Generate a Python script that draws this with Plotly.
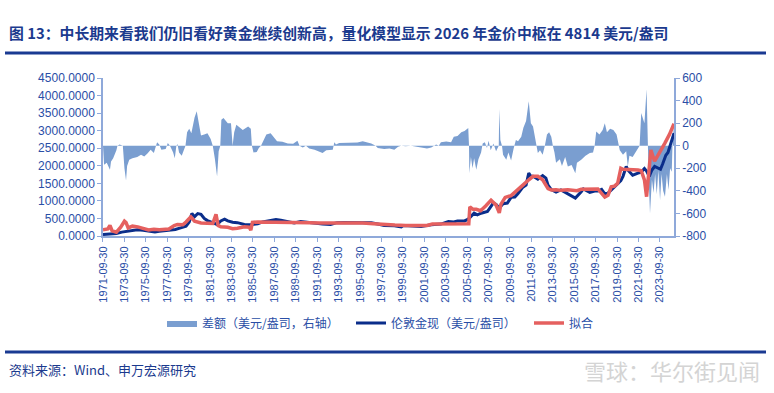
import plotly.graph_objects as go
import pandas as pd

# ---------------- data ----------------
# time stamps are decimal years
gold_t = [1971.75, 1972.5, 1973.0, 1973.5, 1974.0, 1974.5, 1974.95, 1975.5, 1976.0, 1976.6,
          1977.0, 1977.9, 1978.5, 1979.0, 1979.5, 1979.8, 1980.05, 1980.3, 1980.6, 1980.9,
          1981.2, 1981.5, 1981.9, 1982.4, 1982.75, 1983.1, 1983.4, 1983.85, 1984.3, 1984.95,
          1985.5, 1985.85, 1986.2, 1986.65, 1987.1, 1987.9, 1988.35, 1989.0, 1989.6, 1990.2,
          1990.8, 1991.5, 1992.25, 1993.0, 1993.6, 1994.2, 1995.0, 1996.0, 1996.8, 1997.4,
          1998.0, 1998.95, 1999.6, 1999.8, 2000.5, 2001.45, 2002.4, 2002.85, 2003.3, 2004.0,
          2004.5, 2004.85, 2005.5, 2005.85, 2006.1, 2006.4, 2006.7, 2007.05, 2007.65, 2007.98,
          2008.2, 2008.45, 2008.75, 2009.1, 2009.5, 2009.85, 2010.2, 2010.5, 2010.95, 2011.25,
          2011.5, 2011.7, 2011.9, 2012.35, 2012.8, 2013.1, 2013.3, 2013.6, 2014.05, 2014.5,
          2015.15, 2015.6, 2015.85, 2016.4, 2016.6, 2017.2, 2017.65, 2017.95, 2018.3, 2018.6,
          2018.9, 2019.5, 2019.8, 2020.1, 2020.3, 2020.6, 2020.75, 2021.2, 2021.7, 2022.0,
          2022.3, 2022.5, 2022.75, 2023.0, 2023.25, 2023.5, 2023.8, 2024.0, 2024.3, 2024.5,
          2024.8, 2025.06]
gold_v = [42, 65, 70, 110, 140, 150, 180, 165, 135, 115,
          135, 160, 185, 230, 280, 400, 640, 550, 640, 620,
          500, 440, 400, 330, 430, 480, 430, 390, 380, 330,
          320, 330, 345, 400, 420, 470, 450, 400, 370, 410,
          385, 360, 340, 330, 380, 385, 385, 395, 375, 340,
          300, 290, 260, 300, 285, 270, 320, 320, 340, 410,
          400, 430, 430, 480, 560, 650, 600, 650, 700, 830,
          940, 900, 800, 920, 940, 1100, 1110, 1210, 1390, 1450,
          1790, 1700, 1700, 1620, 1720, 1650, 1450, 1320, 1250, 1310,
          1200, 1120, 1080, 1260, 1340, 1240, 1280, 1280, 1330, 1200,
          1220, 1400, 1500, 1580, 1700, 1980, 1880, 1730, 1790, 1820,
          1920, 1850, 1700, 1880, 1980, 1950, 1900, 2050, 2300, 2380,
          2700, 2930]

fit_t = [1971.75, 1972.2, 1972.4, 1972.6, 1973.0, 1973.4, 1973.75, 1973.9, 1974.1, 1974.5,
         1975.0, 1975.5, 1976.0, 1976.5, 1977.0, 1977.9, 1978.4, 1978.7, 1979.2, 1979.5,
         1979.95, 1980.3, 1980.6, 1980.9, 1981.5, 1982.0, 1982.3, 1982.5, 1982.75, 1983.4,
         1983.85, 1984.3, 1984.95, 1985.4, 1985.55, 1985.7, 1986.2, 1987.0, 1988.0, 1989.0,
         1990.0, 1991.0, 1992.0, 1993.0, 1994.0, 1995.0, 1996.0, 1997.0, 1998.0, 1999.0,
         2000.0, 2001.0, 2002.0, 2002.5, 2003.5, 2004.5, 2005.5, 2005.9, 2006.0, 2006.3,
         2006.6, 2007.0, 2007.5, 2007.98, 2008.45, 2008.75, 2008.9, 2009.3, 2009.85, 2010.5,
         2010.95, 2011.5, 2011.9, 2012.35, 2012.8, 2013.3, 2013.6, 2014.05, 2014.5, 2015.15,
         2015.6, 2016.0, 2016.4, 2017.2, 2017.65, 2017.95, 2018.6, 2018.9, 2019.2, 2019.5,
         2019.8, 2020.1, 2020.3, 2020.75, 2021.2, 2021.7, 2022.0, 2022.3, 2022.5, 2022.6,
         2022.9, 2023.25, 2023.7, 2024.2, 2024.65, 2025.06]
fit_v = [180, 200, 300, 150, 110, 250, 420, 380, 230, 280,
         260, 220, 170, 190, 180, 200, 300, 330, 320, 400,
         545, 420, 400, 370, 360, 355, 620, 300, 260, 250,
         210, 220, 260, 250, 170, 390, 400, 400, 390, 390,
         395, 380, 370, 375, 380, 370, 370, 350, 320, 310,
         300, 300, 300, 340, 340, 350, 350, 350, 830, 760,
         760, 720, 860, 1020, 880, 660, 900, 1100, 1150, 1310,
         1450, 1600, 1700, 1700, 1600, 1350, 1310, 1320, 1300, 1320,
         1310, 1290, 1330, 1340, 1360, 1340, 1110, 1160, 1400, 1420,
         1500, 1930, 1900, 1900, 1880, 1880, 1860, 1600, 1120, 1500,
         2450, 2130, 2360, 2640, 2900, 3200]

diff_t = [1971.75, 1971.85, 1972.1, 1972.4, 1972.5, 1972.7, 1973.0, 1973.1, 1973.3, 1973.6,
          1973.75, 1973.9, 1974.0, 1974.2, 1974.5, 1974.95, 1975.3, 1975.6, 1975.9, 1976.2,
          1976.5, 1976.7, 1976.8, 1977.0, 1977.2, 1977.6, 1977.8, 1978.0, 1978.3, 1978.45,
          1978.6, 1978.7, 1978.85, 1979.1, 1979.3, 1979.45, 1979.6, 1979.8, 1980.0, 1980.3,
          1980.5, 1980.7, 1980.9, 1981.2, 1981.5, 1981.8, 1982.0, 1982.2, 1982.4, 1982.55,
          1982.7, 1982.8, 1983.0, 1983.4, 1983.7, 1983.85, 1984.0, 1984.2, 1984.5, 1984.8,
          1985.3, 1985.55, 1985.65, 1985.8, 1986.1, 1986.3, 1986.5, 1986.7, 1987.0, 1987.4,
          1987.7, 1988.0, 1988.5, 1989.0, 1989.5, 1989.9, 1990.1, 1990.4, 1990.7, 1991.0,
          1991.5, 1992.25, 1992.6, 1993.2, 1993.35, 1993.5, 1993.8, 1994.5, 1995.5, 1996.0,
          1996.4, 1996.8, 1997.2, 1997.4, 1998.0, 1998.5, 1998.95, 1999.3, 1999.6, 2000.0,
          2000.5, 2001.0, 2001.45, 2002.0, 2002.4, 2002.85, 2003.1, 2003.3, 2003.8, 2004.25,
          2004.5, 2004.85, 2005.2, 2005.5, 2005.85, 2005.92, 2005.95, 2006.1, 2006.25, 2006.4,
          2006.6, 2006.8, 2007.05, 2007.2, 2007.4, 2007.6, 2007.75, 2007.95, 2008.2, 2008.45,
          2008.7, 2008.75, 2008.85, 2009.0, 2009.1, 2009.4, 2009.6, 2009.85, 2010.1, 2010.3,
          2010.5, 2010.8, 2011.0, 2011.25, 2011.5, 2011.7, 2011.9, 2012.1, 2012.35, 2012.55,
          2012.8, 2013.0, 2013.2, 2013.4, 2013.6, 2013.75, 2013.9, 2014.05, 2014.4, 2014.6,
          2014.9, 2015.15, 2015.5, 2015.85, 2016.0, 2016.4, 2016.8, 2017.2, 2017.5, 2017.65,
          2017.8, 2018.1, 2018.4, 2018.6, 2018.8, 2019.1, 2019.4, 2019.7, 2019.9, 2020.0,
          2020.3, 2020.6, 2020.75, 2020.9, 2021.2, 2021.5, 2021.7, 2021.85, 2022.0, 2022.3,
          2022.5, 2022.6, 2022.7, 2022.82, 2023.0, 2023.15, 2023.3, 2023.45, 2023.6, 2023.76,
          2023.9, 2024.05, 2024.22, 2024.4, 2024.55, 2024.7, 2024.85, 2024.92, 2024.98, 2025.06]
diff_v = [0, -169, -150, -213, -140, -110, -40, 0, 10, 0,
          -200, -308, -180, -125, -110, -100, -80, -95, -70, -35,
          -65, 0, 30, 10, -35, -30, 24, 0, -60, -110,
          0, 15, -60, -90, -40, 0, 120, 150, 110, 250,
          305, 180, 90, 100, 110, 60, 0, -120, -272, -50,
          0, 230, 245, 200, 200, 0, 120, 185, 160, 140,
          170, 150, 0, -60, -55, -20, 0, 40, 100, 110,
          70, 40, 35, 20, 18, 45, 0, -15, 0, -25,
          -35, -65, -40, -35, 30, 10, 24, 25, 28, 40,
          30, 20, 0, -20, -30, -25, -35, -10, 0, -5,
          0, -10, -20, -25, -15, 10, 0, 30, 38, 30,
          80, 85, 120, 130, 157, 0, -243, -100, -200, -110,
          -213, -120, -60, 20, 30, -20, 45, -40, 20, -50,
          0, 326, 50, 0, -80, -125, -60, -130, -20, 50,
          40, 80, 160, 220, 394, 200, 170, 60, -65, -40,
          -80, 0, 100, 120, 80, 0, -60, -150, -120, -180,
          -100, -185, -170, -243, -150, -125, -90, -65, -60, 0,
          127, 100, 140, 200, 120, 150, 140, 100, 20, -40,
          -80, -50, -185, -90, -100, -50, -30, 0, 290, 200,
          500, 0, -300, -600, -300, -420, -250, -430, -220, -482,
          -250, -400, -453, -250, -393, -200, -230, 0, 130, 190]

tick_labels = ["1971-09-30", "1973-09-30", "1975-09-30", "1977-09-30", "1979-09-30",
               "1981-09-30", "1983-09-30", "1985-09-30", "1987-09-30", "1989-09-30",
               "1991-09-30", "1993-09-30", "1995-09-30", "1997-09-30", "1999-09-30",
               "2001-09-30", "2003-09-30", "2005-09-30", "2007-09-30", "2009-09-30",
               "2011-09-30", "2013-09-30", "2015-09-30", "2017-09-30", "2019-09-30",
               "2021-09-30", "2023-09-30"]
right_ticks = [600, 400, 200, 0, -200, -400, -600, -800]
left_ticks = [0, 500, 1000, 1500, 2000, 2500, 3000, 3500, 4000, 4500]

title_text = "图 13：中长期来看我们仍旧看好黄金继续创新高，量化模型显示 2026 年金价中枢在 4814 美元/盎司"
source_text = "资料来源：Wind、申万宏源研究"
watermark_text = "雪球：华尔街见闻"
names = ["差额（美元/盎司，右轴）", "伦敦金现（美元/盎司）", "拟合"]


def to_date(t):
    y = int(t)
    return pd.Timestamp(y, 1, 1) + pd.Timedelta(days=(t - y) * 365.25)


# ---------------- styling ----------------
NAVY = "#1B3A8E"
TICK_BLUE = "#2A4EA6"
AXIS_BLUE = "#8FA9DA"
AREA = "#7A9ED0"
LINE_BLUE = "#0A2D8A"
LINE_RED = "#E5605F"
CJK = "Noto Sans CJK SC"
LAT = "Liberation Sans, Arial"

# plot area in page pixels
L, R, T, B = 103, 674, 78, 236
W, H = 774, 393


def xp(px):
    return (px - L) / (R - L)


def yp(py):
    return (B - py) / (B - T)


fig = go.Figure()
fig.add_trace(go.Scatter(
    x=[to_date(t) for t in diff_t], y=diff_v, name=names[0],
    mode="lines", fill="tozeroy", fillcolor=AREA, legendwidth=144,
    line=dict(width=0, color=AREA), yaxis="y"))
fig.add_trace(go.Scatter(
    x=[to_date(t) for t in gold_t], y=gold_v, name=names[1], legendwidth=133,
    mode="lines", line=dict(color=LINE_BLUE, width=3), yaxis="y2"))
fig.add_trace(go.Scatter(
    x=[to_date(t) for t in fit_t], y=fit_v, name=names[2],
    mode="lines", line=dict(color=LINE_RED, width=3.5), yaxis="y2"))

fig.update_layout(
    width=W, height=H,
    margin=dict(l=L, r=W - R, t=T, b=H - B, pad=0, autoexpand=False),
    paper_bgcolor="white", plot_bgcolor="white",
    showlegend=True,
    legend=dict(orientation="h", x=xp(162), xanchor="left", y=yp(323), yanchor="middle",
                font=dict(family=CJK, size=12, color=TICK_BLUE),
                bgcolor="rgba(0,0,0,0)", itemwidth=30, traceorder="normal"),
    xaxis=dict(
        type="date",
        range=[to_date(1971.75), to_date(2025.06)],
        tickvals=tick_labels, ticktext=tick_labels, tickangle=-90,
        tickfont=dict(family=LAT, size=11, color=TICK_BLUE),
        showline=True, linecolor=AXIS_BLUE, linewidth=2,
        ticks="outside", ticklen=4, tickcolor=AXIS_BLUE, tickwidth=1,
        showgrid=False, zeroline=False),
    yaxis=dict(
        side="right", range=[-800, 600],
        tickvals=right_ticks, ticktext=[str(v) for v in right_ticks],
        tickfont=dict(family=LAT, size=12, color=TICK_BLUE),
        showline=True, linecolor=AXIS_BLUE, linewidth=1.5,
        ticks="outside", ticklen=4, tickcolor=AXIS_BLUE,
        showgrid=False, zeroline=False),
    yaxis2=dict(
        side="left", overlaying="y", range=[0, 4500],
        tickvals=left_ticks, tickformat=".4f",
        tickfont=dict(family=LAT, size=12, color=TICK_BLUE),
        showline=True, linecolor=AXIS_BLUE, linewidth=1.5,
        ticks="outside", ticklen=4, tickcolor=AXIS_BLUE,
        showgrid=False, zeroline=False),
)

fig.add_annotation(text="<b>" + title_text + "</b>", x=xp(7), y=yp(32), xref="paper", yref="paper",
                   xanchor="left", yanchor="middle", showarrow=False,
                   font=dict(family=CJK, size=14.85, color=NAVY))
fig.add_annotation(text=source_text, x=xp(7), y=yp(369), xref="paper", yref="paper",
                   xanchor="left", yanchor="middle", showarrow=False,
                   font=dict(family=CJK, size=13, color=NAVY))
fig.add_annotation(text=watermark_text, x=xp(762), y=yp(370), xref="paper", yref="paper",
                   xanchor="right", yanchor="middle", showarrow=False,
                   font=dict(family=CJK, size=22, color="#D4D4D4"))

for ypx in (53, 352):
    fig.add_shape(type="line", xref="paper", yref="paper",
                  x0=xp(5), x1=xp(766), y0=yp(ypx), y1=yp(ypx),
                  line=dict(color="#1A3A92", width=3))

# remove the browser's default 8px page margin so the figure sits at (0, 0)
fig.write_html("out.html", config={"displayModeBar": False},
               post_script="document.body.style.margin='0';")
